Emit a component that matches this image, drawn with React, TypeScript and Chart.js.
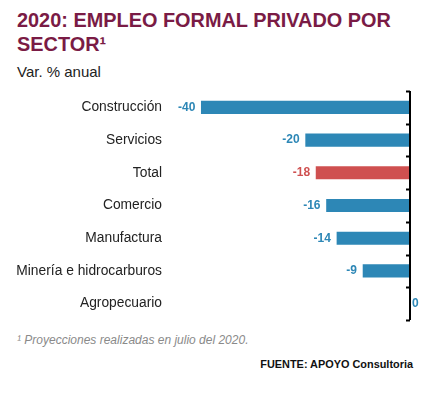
import React, { useEffect, useRef } from "react";
import { Chart, registerables } from "chart.js";

Chart.register(...registerables);

const categories = [
  "Construcción",
  "Servicios",
  "Total",
  "Comercio",
  "Manufactura",
  "Minería e hidrocarburos",
  "Agropecuario",
];
const values = [-40, -20, -18, -16, -14, -9, 0];
const highlight = [false, false, true, false, false, false, false];

const BLUE = "#2d87b6";
const RED = "#cf5050";
const FONT = "'Liberation Sans', Arial, sans-serif";

const axisPlugin = {
  id: "zeroAxis",
  afterDatasetsDraw(chart: any) {
    const { ctx, chartArea, scales } = chart;
    const x = scales.x.getPixelForValue(0);
    const y = scales.y;
    ctx.save();
    ctx.strokeStyle = "#000";
    ctx.lineWidth = 2;
    ctx.beginPath();
    ctx.moveTo(x, chartArea.top);
    ctx.lineTo(x, chartArea.bottom);
    ctx.stroke();
    const n = categories.length;
    for (let i = 0; i <= n; i++) {
      const yy = y.getPixelForValue(i - 0.5);
      ctx.beginPath();
      ctx.moveTo(x - 4, Math.round(yy) + 0.5);
      ctx.lineTo(x, Math.round(yy) + 0.5);
      ctx.stroke();
    }
    const meta = chart.getDatasetMeta(0);
    ctx.font = `bold 12px ${FONT}`;
    ctx.textBaseline = "middle";
    meta.data.forEach((bar: any, i: number) => {
      const v = values[i];
      ctx.fillStyle = highlight[i] ? RED : BLUE;
      if (v === 0) {
        ctx.textAlign = "left";
        ctx.fillText(String(v), x + 2, bar.y);
      } else {
        ctx.textAlign = "right";
        ctx.fillText(String(v), bar.x - 6, bar.y);
      }
    });
    ctx.restore();
  },
};

export default function App() {
  const ref = useRef<HTMLCanvasElement | null>(null);
  useEffect(() => {
    if (!ref.current) return;
    const chart = new Chart(ref.current, {
      type: "bar",
      data: {
        labels: categories,
        datasets: [
          {
            data: values,
            backgroundColor: highlight.map((h) => (h ? RED : BLUE)),
            borderWidth: 0,
            barThickness: 12.5,
          },
        ],
      },
      options: {
        indexAxis: "y",
        animation: false,
        responsive: false,
        maintainAspectRatio: false,
        layout: { padding: { top: 3, bottom: 8, right: 26, left: 0 } },
        plugins: {
          legend: { display: false },
          tooltip: { enabled: false },
        },
        scales: {
          x: {
            display: false,
            min: -46,
            max: 0,
          },
          y: {
            grid: { display: false, drawTicks: false },
            border: { display: false },
            ticks: {
              color: "#222",
              font: { family: FONT, size: 13.8 },
              padding: 8,
            },
            afterFit(scale: any) {
              scale.width = 170;
              scale.paddingTop = 0;
              scale.paddingBottom = 0;
            },
          },
        },
      },
      plugins: [axisPlugin],
    });
    return () => chart.destroy();
  }, []);

  return (
    <div
      style={{
        position: "relative",
        width: 436,
        height: 394,
        margin: -8,
        background: "#fff",
        fontFamily: FONT,
        overflow: "hidden",
      }}
    >
      <div
        style={{
          position: "absolute",
          left: 17,
          top: 8,
          width: 415,
          fontSize: 19.9,
          lineHeight: "24px",
          fontWeight: "bold",
          color: "#7a1b45",
        }}
      >
        2020: EMPLEO FORMAL PRIVADO POR SECTOR¹
      </div>
      <div
        style={{
          position: "absolute",
          left: 17,
          top: 63,
          fontSize: 15,
          color: "#222",
        }}
      >
        Var. % anual
      </div>
      <canvas
        ref={ref}
        width={436}
        height={240}
        style={{ position: "absolute", left: 0, top: 88, width: 436, height: 240 }}
      />
      <div
        style={{
          position: "absolute",
          left: 17,
          top: 333,
          fontSize: 12,
          fontStyle: "italic",
          color: "#8a8a8a",
        }}
      >
        ¹ Proyecciones realizadas en julio del 2020.
      </div>
      <div
        style={{
          position: "absolute",
          right: 23,
          top: 358,
          fontSize: 10.9,
          fontWeight: "bold",
          color: "#111",
        }}
      >
        FUENTE: APOYO Consultoria
      </div>
    </div>
  );
}
